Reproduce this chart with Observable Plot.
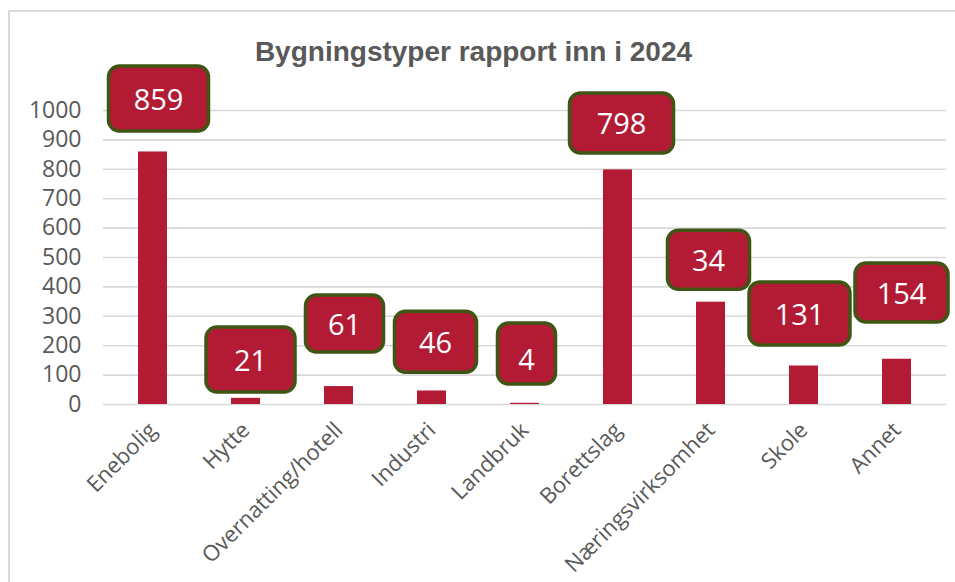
<!DOCTYPE html>
<html>
<head>
<meta charset="utf-8">
<script src="https://cdn.jsdelivr.net/npm/d3@7"></script>
<script src="https://cdn.jsdelivr.net/npm/@observablehq/plot@0.6"></script>
<style>
  html, body { margin: 0; padding: 0; background: #fff; }
  #wrap { position: relative; width: 955px; height: 582px; overflow: hidden; }
  #frame { position: absolute; left: 8px; top: 10px; right: -10px; bottom: -10px;
           border-left: 2px solid #d9d9d9; border-top: 2px solid #d9d9d9; }
  #title { position: absolute; left: 0; width: 947px; top: 36px; text-align: center;
           font-family: "Liberation Sans Narrow", "Liberation Sans", sans-serif; font-weight: bold;
           font-size: 28px; color: #595959; }
  #chart { position: absolute; left: 0; top: 0; }
</style>
</head>
<body>
<div id="wrap">
  <div id="frame"></div>
  <div id="chart"></div>
  <div id="title">Bygningstyper rapport inn i 2024</div>
</div>
<script>
// Data
const categories = ["Enebolig", "Hytte", "Overnatting/hotell", "Industri", "Landbruk", "Borettslag", "Næringsvirksomhet", "Skole", "Annet"];
const values = [859, 21, 61, 46, 4, 798, 348, 131, 154];
const labelTexts = ["859", "21", "61", "46", "4", "798", "34", "131", "154"];
const yTicks = [0, 100, 200, 300, 400, 500, 600, 700, 800, 900, 1000];

// Label box layout (data-unit height of box centre, pixel offsets / sizes)
const labelY = [1039, 151, 274, 212, 172, 956, 491, 308, 379];
const labelDx = [6, 5, 6, 4, 2, 4, -2, -4, 5];
const labelTextDy = [0, 0, 0, 0, 5, 0, 0, 0, 0];
const boxW = [100, 89, 78, 82, 58, 104, 82, 101, 93];
const boxH = [65, 65, 57, 61, 61, 60, 59, 63, 59];

const data = categories.map((c, i) => ({cat: c, value: values[i], label: labelTexts[i], ly: labelY[i], dx: labelDx[i], tdy: labelTextDy[i], w: boxW[i], h: boxH[i]}));

const barColor = "#b31b34";
const boxStroke = "#3e5513";
const textGray = "#595959";

function labelBoxes(index, scales, values, dimensions) {
  const g = d3.create("svg:g");
  const xs = scales.x, ys = scales.y;
  const bw = xs.bandwidth ? xs.bandwidth() : (dimensions.width - dimensions.marginLeft - dimensions.marginRight) / categories.length;
  for (const d of data) {
    const cx = xs(d.cat) + bw / 2 + d.dx;
    const cy = ys(d.ly);
    g.append("rect")
      .attr("x", cx - d.w / 2).attr("y", cy - d.h / 2)
      .attr("width", d.w).attr("height", d.h)
      .attr("rx", 11).attr("ry", 11)
      .attr("fill", barColor).attr("stroke", boxStroke).attr("stroke-width", 3.5);
    g.append("text")
      .attr("x", cx).attr("y", cy + d.tdy)
      .attr("text-anchor", "middle").attr("dominant-baseline", "central")
      .attr("font-family", "'Open Sans', sans-serif").attr("font-size", 29)
      .attr("fill", "white")
      .text(d.label);
  }
  return g.node();
}

const plot = Plot.plot({
  width: 955,
  height: 582,
  marginLeft: 103,
  marginRight: 9,
  marginTop: 110,
  marginBottom: 178,
  style: {background: "transparent", fontFamily: "'Open Sans', sans-serif", color: textGray, overflow: "visible"},
  x: {domain: categories, padding: 0, label: null},
  y: {domain: [0, 1000], label: null},
  marks: [
    Plot.gridY(yTicks, {stroke: "#d9d9d9", strokeOpacity: 1, strokeWidth: 1.6}),
    Plot.barY(data, {x: "cat", y: "value", fill: barColor, insetLeft: 32, insetRight: 32}),
    Plot.axisY(yTicks, {tickSize: 0, tickPadding: 22, fontSize: 23, fill: textGray, label: null, tickFormat: d => String(d)}),
    Plot.axisX({tickSize: 0, tickPadding: 22, tickRotate: -45, fontSize: 22, fill: textGray, label: null}),
    labelBoxes
  ]
});
document.getElementById("chart").appendChild(plot);
</script>
</body>
</html>
